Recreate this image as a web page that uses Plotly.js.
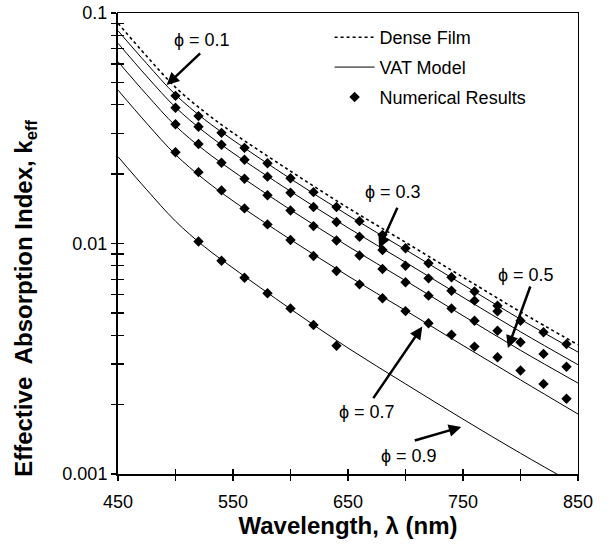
<!DOCTYPE html>
<html><head><meta charset="utf-8">
<script src="https://cdn.plot.ly/plotly-3.0.1.min.js"></script>
<style>html,body{margin:0;padding:0;background:#fff}#chart{width:608px;height:548px}</style>
</head><body><div id="chart"></div>
<script>
// VAT model / dense film curves (wavelength in nm, effective absorption index)
const lineWavelength = [450, 475, 500, 525, 550, 600, 650, 700, 750, 800, 850];
const denseFilm = [0.0902, 0.0649, 0.0476, 0.0373, 0.0302, 0.0206, 0.01428, 0.01012, 0.00714, 0.00505, 0.003635];
const vatPhi01 = [0.0838, 0.0603, 0.0442, 0.0346, 0.0281, 0.0191, 0.01327, 0.0094, 0.00663, 0.00469, 0.00338];
const vatPhi03 = [0.0739, 0.0531, 0.0390, 0.0305, 0.0247, 0.01684, 0.0117, 0.00829, 0.00584, 0.00414, 0.00298];
const vatPhi05 = [0.0615, 0.0442, 0.0324, 0.0254, 0.0206, 0.0140, 0.00973, 0.0069, 0.00486, 0.00344, 0.00248];
const vatPhi07 = [0.0463, 0.0332, 0.0243, 0.01895, 0.0153, 0.0104, 0.00723, 0.00512, 0.00361, 0.00256, 0.00182];
const vatPhi09 = [0.0238, 0.0171, 0.0125, 0.0097, 0.00783, 0.0052, 0.00352, 0.00246, 0.00173, 0.00123, 0.000887];

// Numerical results
const numWavelength = [500, 520, 540, 560, 580, 600, 620, 640, 660, 680, 700, 720, 740, 760, 780, 800, 820, 840];
const numPhi01 = [0.0437, 0.0357, 0.0302, 0.0260, 0.0223, 0.0192, 0.0167, 0.0144, 0.0125, 0.0109, 0.00953, 0.00821, 0.00714, 0.00619, 0.00537];
const numPhi03 = [0.0388, 0.0321, 0.0268, 0.0231, 0.0195, 0.0166, 0.0144, 0.0124, 0.0107, 0.00937, 0.00801, 0.00706, 0.00624, 0.00565, 0.00508, 0.00462, 0.00412, 0.00366];
const numPhi05 = [0.0329, 0.0270, 0.0224, 0.0191, 0.0162, 0.0139, 0.0119, 0.0103, 0.00887, 0.00775, 0.00679, 0.00594, 0.00523, 0.00462, 0.00418, 0.00373, 0.00332, 0.00292];
const numPhi07 = [0.0249, 0.0204, 0.0170, 0.0142, 0.0121, 0.01035, 0.00883, 0.0076, 0.00665, 0.00579, 0.00509, 0.00451, 0.00402, 0.00357, 0.00321, 0.00281, 0.00246, 0.00212];
const numWavelengthPhi09 = [520, 540, 560, 580, 600, 620, 640];
const numPhi09 = [0.0102, 0.00842, 0.0071, 0.00608, 0.00523, 0.00443, 0.0036];

// Axis ticks
const xTickVals = [450, 500, 550, 600, 650, 700, 750, 800, 850];
const xTickText = ['450', '', '550', '', '650', '', '750', '', '850'];
const yTickVals = [0.001,0.002,0.003,0.004,0.005,0.006,0.007,0.008,0.009,
                   0.01,0.02,0.03,0.04,0.05,0.06,0.07,0.08,0.09,0.1];
const yTickText = ['0.001','','','','','','','','','0.01','','','','','','','','','0.1'];

// Labels
const phiLabels = ['\u03D5 = 0.1', '\u03D5 = 0.3', '\u03D5 = 0.5', '\u03D5 = 0.7', '\u03D5 = 0.9'];
const phiLabelPos = [[523, 0.0764], [689, 0.01673], [805, 0.0073], [666.5, 0.00186], [703, 0.0012]];
const phiArrowTip = [[492.3, 0.0487], [677, 0.00953], [789, 0.00352], [714.6, 0.00436], [748.5, 0.0016]];
const phiArrowTail = [[35, -33], [19, -42], [23, -63], [-50, 73], [-48, 14]];

const FONT = 'Liberation Sans, Arial, sans-serif';
const black = '#000';

const traces = [];
traces.push({x: lineWavelength, y: denseFilm, mode: 'lines', name: 'Dense Film', legendgroup: 'dense',
  line: {color: black, width: 1.6, dash: 'dot', shape: 'spline'}});
[vatPhi01, vatPhi03, vatPhi05, vatPhi07, vatPhi09].forEach((v, i) => {
  traces.push({x: lineWavelength, y: v, mode: 'lines', name: 'VAT Model', legendgroup: 'vat',
    showlegend: i === 0, line: {color: black, width: 1, shape: 'spline'}});
});
const numSets = [[numWavelength.slice(0, numPhi01.length), numPhi01], [numWavelength, numPhi03],
  [numWavelength, numPhi05], [numWavelength, numPhi07], [numWavelengthPhi09, numPhi09]];
numSets.forEach((s, i) => {
  traces.push({x: s[0], y: s[1], mode: 'markers', name: 'Numerical Results', legendgroup: 'num',
    showlegend: i === 0, marker: {symbol: 'diamond', size: 8, color: black}});
});
// helper trace for the inner tick overlay axes
traces.push({x: [], y: [], xaxis: 'x2', yaxis: 'y2', showlegend: false, hoverinfo: 'skip'});

const annotations = [];
phiLabels.forEach((t, i) => {
  annotations.push({x: phiLabelPos[i][0], y: Math.log10(phiLabelPos[i][1]), xref: 'x', yref: 'y',
    text: t, showarrow: false, font: {family: FONT, size: 18, color: black}});
  annotations.push({x: phiArrowTip[i][0], y: Math.log10(phiArrowTip[i][1]), xref: 'x', yref: 'y',
    text: '', showarrow: true, ax: phiArrowTail[i][0], ay: phiArrowTail[i][1],
    arrowhead: 2, arrowsize: 1, arrowwidth: 2.5, arrowcolor: black, standoff: 0, startstandoff: 0});
});
// y-axis title
annotations.push({xref: 'paper', yref: 'paper', x: -0.2, y: 0.38, xanchor: 'center', yanchor: 'middle',
  textangle: -90, showarrow: false,
  text: '<b>Effective  Absorption Index, k<sub>eff</sub></b>',
  font: {family: FONT, size: 24, color: black}});

const layout = {
  width: 608, height: 548,
  margin: {l: 118, r: 30, t: 13, b: 74},
  paper_bgcolor: '#fff', plot_bgcolor: '#fff',
  font: {family: FONT, size: 18, color: black},
  showlegend: true,
  legend: {x: 0.46, y: 0.987, xanchor: 'left', yanchor: 'top', bgcolor: 'rgba(0,0,0,0)',
    font: {family: FONT, size: 18, color: black}, traceorder: 'grouped', tracegroupgap: 3.5, itemwidth: 40},
  xaxis: {range: [450, 850], tickvals: xTickVals, ticktext: xTickText, ticks: 'outside', ticklen: 5,
    tickwidth: 1.3, tickcolor: black, showline: true, linewidth: 2, linecolor: black, mirror: false,
    showgrid: false, zeroline: false, ticklabelstandoff: 5, tickfont: {family: FONT, size: 18, color: black},
    title: {text: '<b>Wavelength, \u03BB (nm)</b>', font: {family: FONT, size: 24, color: black}, standoff: 7}},
  yaxis: {type: 'log', range: [-3, -1], tickvals: yTickVals, ticktext: yTickText, ticks: 'outside', ticklen: 5,
    tickwidth: 1.3, tickcolor: black, showline: true, linewidth: 2, linecolor: black, mirror: false,
    showgrid: false, zeroline: false, tickfont: {family: FONT, size: 18, color: black}},
  xaxis2: {overlaying: 'x', anchor: 'y2', side: 'bottom', range: [450, 850], tickvals: xTickVals,
    ticks: 'inside', ticklen: 5, tickwidth: 1.3, tickcolor: black, showticklabels: false,
    showline: true, linewidth: 1, linecolor: black, mirror: true, showgrid: false, zeroline: false},
  yaxis2: {overlaying: 'y', anchor: 'x2', side: 'left', type: 'log', range: [-3, -1], tickvals: yTickVals,
    ticks: 'inside', ticklen: 6, tickwidth: 1.3, tickcolor: black, showticklabels: false,
    showline: true, linewidth: 1, linecolor: black, mirror: true, showgrid: false, zeroline: false},
  annotations: annotations
};

Plotly.newPlot('chart', traces, layout, {displayModeBar: false, staticPlot: true});
</script>
</body></html>
